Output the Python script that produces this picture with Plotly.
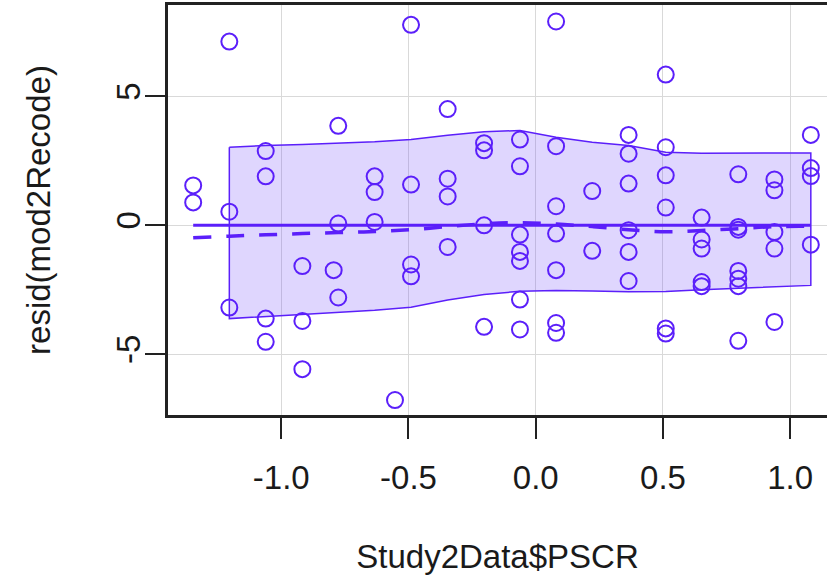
import plotly.graph_objects as go

# ---- data ----
pscr = ([-1.346] * 2 + [-1.204] * 3 + [-1.061] * 4 + [-0.917] * 3
        + [-0.776, -0.776, -0.794, -0.776] + [-0.633] * 3 + [-0.553]
        + [-0.490] * 4 + [-0.346] * 4 + [-0.203] * 4 + [-0.062] * 7
        + [0.080] * 7 + [0.222] * 2 + [0.365] * 6 + [0.511] * 6
        + [0.652] * 5 + [0.796] * 7 + [0.938] * 5 + [1.081] * 4)
resid = [1.55, 0.89,
         7.13, 0.53, -3.19,
         2.88, 1.90, -3.62, -4.52,
         -1.58, -3.71, -5.58,
         3.86, 0.07, -1.74, -2.80,
         1.90, 1.29, 0.13,
         -6.78,
         7.78, 1.58, -1.52, -1.98,
         4.51, 1.81, 1.12, -0.84,
         3.19, 2.91, 0.00, -3.94,
         3.33, 2.29, -0.36, -1.03, -1.38, -2.88, -4.04,
         7.91, 3.07, 0.74, -0.32, -1.74, -3.79, -4.17,
         1.33, -0.99,
         3.51, 2.78, 1.62, -0.19, -1.03, -2.16,
         5.85, 3.03, 1.94, 0.69, -4.00, -4.20,
         0.30, -0.55, -0.90, -2.20, -2.36,
         1.98, -0.06, -0.17, -1.77, -2.07, -2.36, -4.48,
         1.78, 1.36, -0.26, -0.90, -3.75,
         3.51, 2.22, 1.91, -0.75]

band_x = [-1.204, -1.061, -0.917, -0.776, -0.633, -0.490, -0.346, -0.203, -0.062,
          0.080, 0.222, 0.365, 0.511, 0.652, 0.796, 0.938, 1.081]
band_upper = [3.03, 3.10, 3.14, 3.19, 3.24, 3.33, 3.50, 3.63, 3.68,
              3.42, 3.22, 3.10, 2.84, 2.80, 2.80, 2.81, 2.81]
band_lower = [-3.62, -3.55, -3.45, -3.38, -3.30, -3.18, -2.90, -2.68, -2.56,
              -2.53, -2.55, -2.58, -2.57, -2.50, -2.43, -2.38, -2.33]

smooth_x = [-1.346, -1.204, -1.061, -0.917, -0.776, -0.633, -0.490, -0.346, -0.203,
            -0.062, 0.080, 0.222, 0.365, 0.511, 0.652, 0.796, 0.938, 1.081]
smooth_y = [-0.48, -0.42, -0.37, -0.32, -0.28, -0.24, -0.17, -0.05, 0.06,
            0.10, 0.05, -0.05, -0.17, -0.25, -0.20, -0.13, -0.05, -0.04]

ref_x = [-1.346, 1.081]
ref_y = [0.0, 0.0]

x_ticks = [-1.0, -0.5, 0.0, 0.5, 1.0]
x_ticklabels = ["-1.0", "-0.5", "0.0", "0.5", "1.0"]
y_ticks = [-5, 0, 5]
y_ticklabels = ["-5", "0", "5"]

# ---- styles ----
VIOLET = "#5B1FFA"
FILL = "rgba(110,70,250,0.22)"
FONT = "Liberation Sans, Arial, Helvetica, sans-serif"
FS = 33

fig = go.Figure()

fig.add_trace(go.Scatter(
    x=band_x + band_x[::-1] + [band_x[0]],
    y=band_upper + band_lower[::-1] + [band_upper[0]],
    mode="lines", fill="toself", fillcolor=FILL,
    line=dict(color=VIOLET, width=1.5), hoverinfo="skip", showlegend=False))

fig.add_trace(go.Scatter(
    x=pscr, y=resid, mode="markers",
    marker=dict(symbol="circle-open", size=16, color=VIOLET, line=dict(width=2, color=VIOLET)),
    showlegend=False))

fig.add_trace(go.Scatter(
    x=ref_x, y=ref_y, mode="lines",
    line=dict(color=VIOLET, width=3), showlegend=False))

fig.add_trace(go.Scatter(
    x=smooth_x, y=smooth_y, mode="lines", line_shape="spline",
    line=dict(color=VIOLET, width=3.5, dash="18px,15px"), showlegend=False))

fig.update_layout(
    width=827, height=585,
    margin=dict(l=168, r=0, t=5, b=170),
    paper_bgcolor="white", plot_bgcolor="white",
    font=dict(family=FONT, size=FS, color="#1a1a1a"),
    showlegend=False,
)

fig.update_xaxes(
    range=[-1.445, 1.1446], tickvals=x_ticks, ticktext=x_ticklabels,
    ticks="outside", ticklen=21, tickwidth=2, tickcolor="#222",
    showline=True, linewidth=2.5, linecolor="#222", mirror=True,
    showgrid=True, gridcolor="#d9d9d9", gridwidth=1.2, zeroline=False,
    ticklabelstandoff=11,
    title=dict(text="Study2Data$PSCR", standoff=50, font=dict(size=FS)),
)
fig.update_yaxes(
    range=[-7.36, 8.55], tickvals=y_ticks, ticktext=y_ticklabels, tickangle=-90,
    ticks="outside", ticklen=20, tickwidth=2, tickcolor="#222",
    showline=True, linewidth=2.5, linecolor="#222", mirror=False,
    showgrid=True, gridcolor="#d9d9d9", gridwidth=1.2, zeroline=False,
    ticklabelstandoff=-8,
    title=dict(text="resid(mod2Recode)", standoff=50, font=dict(size=FS)),
)

fig.write_html("out.html", config={"displayModeBar": False},
               post_script="document.body.style.margin='0';")
